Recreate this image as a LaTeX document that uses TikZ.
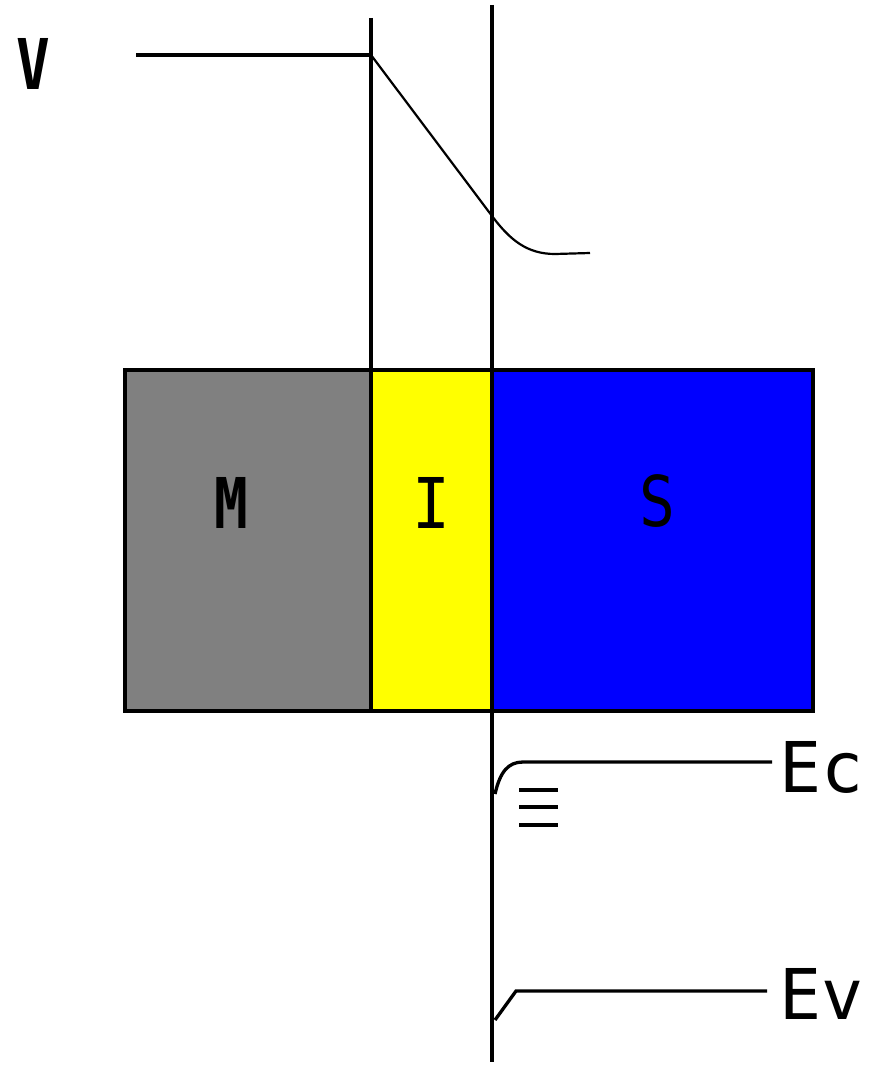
\documentclass[tikz,border=0pt]{standalone}
\usepackage{fontspec}
\newfontfamily\lblfont{DejaVu Sans Mono}
\begin{document}
\begin{tikzpicture}[x=1pt,y=-1pt,
  region/.style={draw=black,line width=3.5pt,anchor=north west,inner sep=0pt,outer sep=0pt,minimum height=341pt},
  thick line/.style={line width=3.3pt},
  thin curve/.style={line width=2.2pt},
  lbl/.style={font=\lblfont\fontsize{70}{80}\selectfont,inner sep=0pt,text=black},
  blbl/.style={font=\lblfont\bfseries\fontsize{70}{80}\selectfont,inner sep=0pt,text=black}]
\definecolor{mgray}{RGB}{128,128,128}
\definecolor{iyellow}{RGB}{255,255,0}
\definecolor{sblue}{RGB}{0,0,255}
\useasboundingbox (0,0) rectangle (870,1065);
% regions
\node[region,fill=mgray,minimum width=246pt] (M) at (125,370) {};
\node[region,fill=iyellow,minimum width=121pt] (I) at (371,370) {};
\node[region,fill=sblue,minimum width=321pt] (S) at (492,370) {};
\node[blbl,xscale=0.8] (Mt) at (231,503) {M};
\node[lbl,xscale=0.9] (It) at (431,503) {I};
\node[lbl,xscale=0.85] (St) at (657,501) {S};
% vertical lines
\coordinate (t1) at (371,18);
\coordinate (t2) at (492,5);
\coordinate (b2) at (492,1062);
\draw[thick line] (t1) -- (M.north east);
\draw[thick line] (t2) -- (b2);
% V
\node[blbl,xscale=0.8] (V) at (33,64) {V};
\coordinate (v0) at (136,55);
\coordinate (v1) at (371,55);
\draw[thick line] (v0) -- (v1);
\coordinate (c1) at (492,216);
\coordinate (c2) at (555,254);
\coordinate (c3) at (590,253);
\draw[thin curve] (v1) -- (c1) .. controls (510,240) and (527,254) .. (c2) -- (c3);
% Ec
\coordinate (e0) at (495,794);
\coordinate (e1) at (523,762);
\coordinate (e2) at (772,762);
\draw[thick line] (e0) .. controls (500,772) and (508,762) .. (e1) -- (e2);
\node[lbl,anchor=west] (Ec) at (779,767) {Ec};
\coordinate (d1a) at (519,790);
\coordinate (d1b) at (558,790);
\coordinate (d2a) at (519,807);
\coordinate (d2b) at (558,807);
\coordinate (d3a) at (519,825);
\coordinate (d3b) at (558,825);
\draw[thick line] (d1a) -- (d1b);
\draw[thick line] (d2a) -- (d2b);
\draw[thick line] (d3a) -- (d3b);
% Ev
\coordinate (f0) at (495,1020);
\coordinate (f1) at (516,991);
\coordinate (f2) at (767,991);
\draw[thick line] (f0) -- (f1) -- (f2);
\node[lbl,anchor=west] (Ev) at (779,994) {Ev};
\end{tikzpicture}
\end{document}
